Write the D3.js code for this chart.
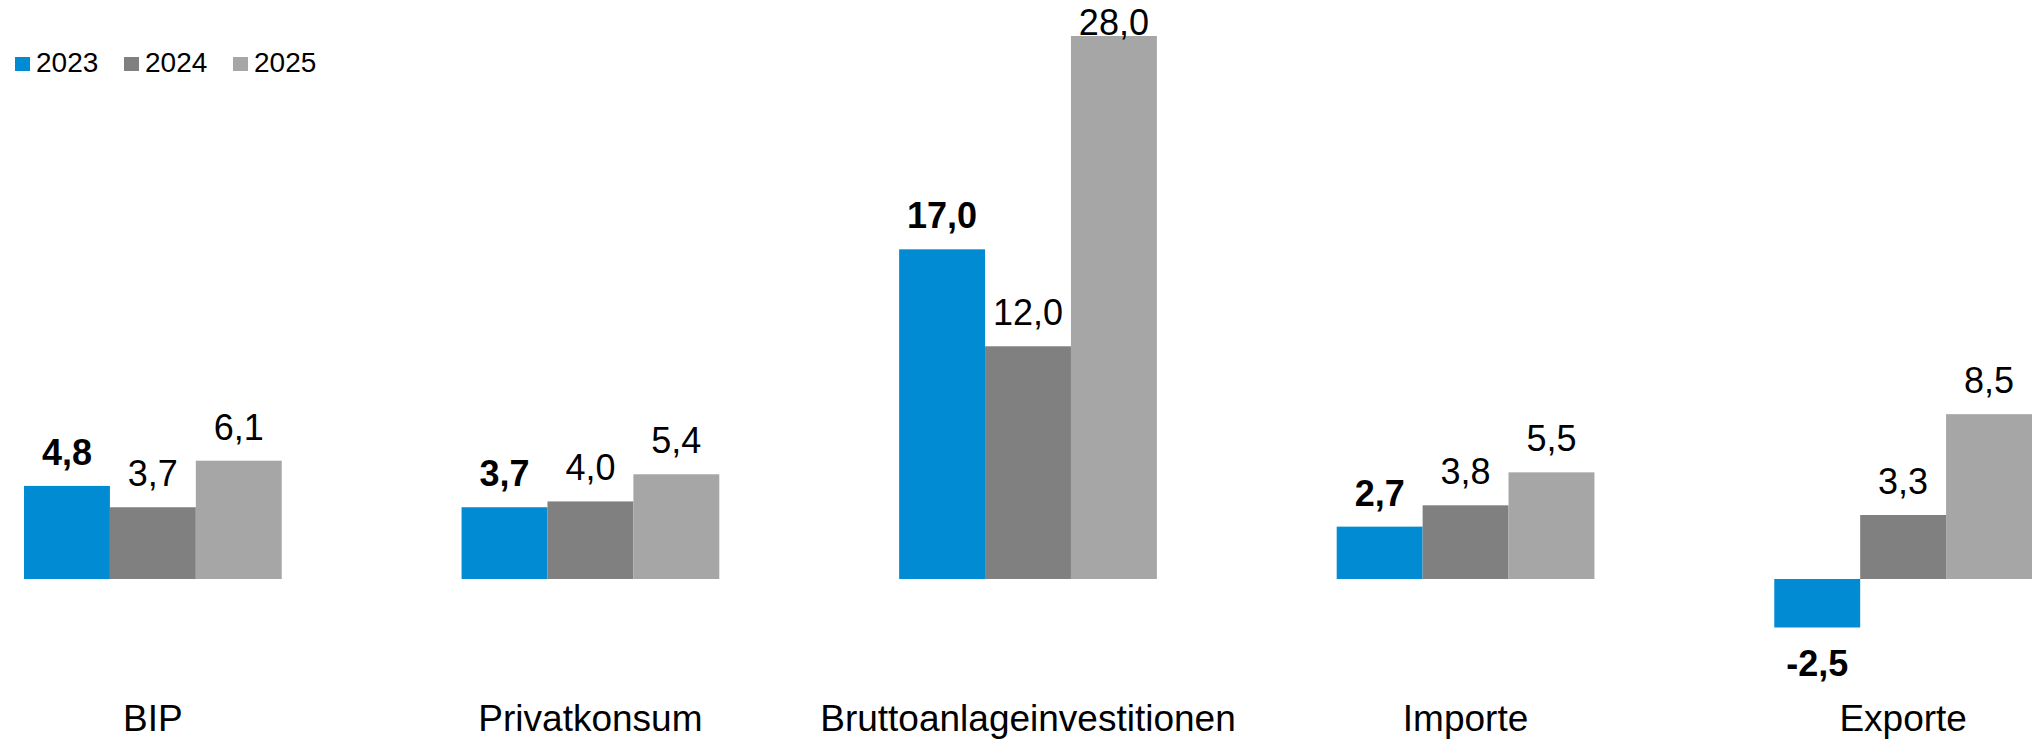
<!DOCTYPE html>
<html>
<head>
<meta charset="utf-8">
<script src="https://cdn.jsdelivr.net/npm/d3@7"></script>
<style>
  html, body { margin: 0; padding: 0; background: #fff; }
  svg { display: block; font-family: "Liberation Sans", Arial, sans-serif; }
</style>
</head>
<body>
<div id="chart"></div>
<script>
// Kategorien und Werte (in %)
const categories = ["BIP", "Privatkonsum", "Bruttoanlageinvestitionen", "Importe", "Exporte"];
const years = ["2023", "2024", "2025"];
const values2023 = [4.8, 3.7, 17.0, 2.7, -2.5];
const values2024 = [3.7, 4.0, 12.0, 3.8, 3.3];
const values2025 = [6.1, 5.4, 28.0, 5.5, 8.5];
const colors = ["#008BD2", "#808080", "#A6A6A6"];

const width = 2040, height = 739;

const seriesValues = [values2023, values2024, values2025];
const data = categories.map((c, i) => ({
    cat: c,
    vals: years.map((y, j) => ({ year: y, value: seriesValues[j][i], idx: j }))
}));

const x = d3.scaleBand()
    .domain(categories)
    .range([24, 2032])
    .paddingInner(0.411)
    .paddingOuter(0);

const xi = d3.scaleBand()
    .domain(years)
    .range([0, x.bandwidth()])
    .padding(0);

// Nulllinie bei 579, 28 -> 36
const y = d3.scaleLinear()
    .domain([0, 28])
    .range([579, 36]);

const color = d3.scaleOrdinal().domain(years).range(colors);

const fmt = v => v.toFixed(1).replace(".", ",");

const svg = d3.select("#chart").append("svg")
    .attr("width", width)
    .attr("height", height)
    .attr("viewBox", [0, 0, width, height]);

const groups = svg.append("g")
    .selectAll("g")
    .data(data)
    .join("g")
    .attr("transform", d => `translate(${x(d.cat)},0)`);

groups.selectAll("rect")
    .data(d => d.vals)
    .join("rect")
    .attr("x", d => xi(d.year))
    .attr("y", d => Math.min(y(d.value), y(0)))
    .attr("width", xi.bandwidth())
    .attr("height", d => Math.abs(y(d.value) - y(0)))
    .attr("fill", d => color(d.year));

// Wertebeschriftungen
groups.selectAll("text.val")
    .data(d => d.vals)
    .join("text")
    .attr("class", "val")
    .attr("x", d => xi(d.year) + xi.bandwidth() / 2)
    .attr("y", d => d.value >= 0 ? Math.max(y(d.value) - 21, 35) : y(d.value) + 49)
    .attr("text-anchor", "middle")
    .attr("font-size", 36)
    .attr("font-weight", d => d.idx === 0 ? "bold" : "normal")
    .attr("fill", "#000")
    .text(d => fmt(d.value));

// Kategorie-Beschriftungen
svg.append("g")
    .selectAll("text")
    .data(categories)
    .join("text")
    .attr("x", d => x(d) + x.bandwidth() / 2)
    .attr("y", 731)
    .attr("text-anchor", "middle")
    .attr("font-size", 37)
    .attr("fill", "#000")
    .text(d => d);

// Legende
const legend = svg.append("g")
    .selectAll("g")
    .data(years)
    .join("g")
    .attr("transform", (d, i) => `translate(${15 + i * 109},0)`);

legend.append("rect")
    .attr("x", 0)
    .attr("y", 57)
    .attr("width", 15)
    .attr("height", 14)
    .attr("fill", d => color(d));

legend.append("text")
    .attr("x", 21)
    .attr("y", 72)
    .attr("font-size", 28)
    .attr("fill", "#000")
    .text(d => d);
</script>
</body>
</html>
